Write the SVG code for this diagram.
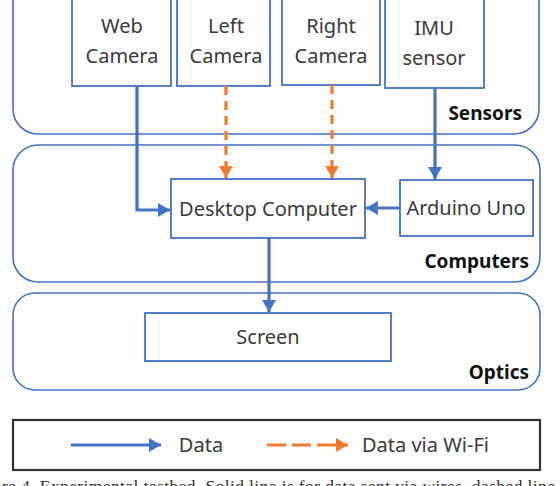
<svg xmlns="http://www.w3.org/2000/svg" width="560" height="486" viewBox="0 0 560 486">
<defs>
<marker id="ab" markerUnits="userSpaceOnUse" markerWidth="12" markerHeight="14" refX="12" refY="7" orient="auto"><path d="M0,0 L12,7 L0,14 z" fill="#4472C4"/></marker>
<marker id="ao" markerUnits="userSpaceOnUse" markerWidth="12" markerHeight="14" refX="12" refY="7" orient="auto"><path d="M0,0 L12,7 L0,14 z" fill="#ED7D31"/></marker>
<style>
.grp{fill:none;stroke:#4472C4;stroke-width:1.6}
.box{fill:#fff;stroke:#4472C4;stroke-width:1.8}
.t{font-family:"Noto Sans","Open Sans",sans-serif;font-size:20px;fill:#3a3a3a;text-anchor:middle}
.lbl{font-family:"Noto Sans","Open Sans",sans-serif;font-size:19px;font-weight:bold;fill:#111;text-anchor:end}
.wire{fill:none;stroke:#4472C4;stroke-width:3.2}
.wifi{fill:none;stroke:#ED7D31;stroke-width:3.2;stroke-dasharray:9,6}
</style>
</defs>
<rect width="560" height="486" fill="#fff"/>

<g id="sensors">
<rect class="grp" x="13" y="-40" width="526" height="174" rx="25"/>
<text class="lbl" x="522" y="120">Sensors</text>
</g>
<g id="computers">
<rect class="grp" x="13" y="145" width="527" height="137" rx="25"/>
<text class="lbl" x="529" y="268">Computers</text>
</g>
<g id="optics">
<rect class="grp" x="13" y="293" width="527" height="97" rx="22"/>
<text class="lbl" x="529" y="379">Optics</text>
</g>

<g id="web-camera">
<rect class="box" x="72" y="-3" width="99" height="89"/>
<text class="t" x="122" y="33">Web</text>
<text class="t" x="122" y="63">Camera</text>
</g>
<g id="left-camera">
<rect class="box" x="177" y="-3" width="93" height="89"/>
<text class="t" x="226" y="33">Left</text>
<text class="t" x="226" y="63">Camera</text>
</g>
<g id="right-camera">
<rect class="box" x="282" y="-3" width="98" height="88"/>
<text class="t" x="331" y="33">Right</text>
<text class="t" x="331" y="63">Camera</text>
</g>
<g id="imu-sensor">
<rect class="box" x="385" y="-3" width="99" height="91"/>
<text class="t" x="434" y="35">IMU</text>
<text class="t" x="434" y="65">sensor</text>
</g>
<g id="desktop-computer">
<rect class="box" x="171" y="179" width="194" height="59"/>
<text class="t" x="268" y="216">Desktop Computer</text>
</g>
<g id="arduino-uno">
<rect class="box" x="400" y="180" width="133" height="56"/>
<text class="t" x="466" y="215">Arduino Uno</text>
</g>
<g id="screen">
<rect class="box" x="145" y="313" width="246" height="48"/>
<text class="t" x="268" y="344">Screen</text>
</g>

<g id="connectors">
<polyline class="wire" points="137,86 137,210 170,210" marker-end="url(#ab)"/>
<line class="wifi" x1="226" y1="86" x2="226" y2="178" marker-end="url(#ao)"/>
<line class="wifi" x1="332" y1="85" x2="332" y2="178" marker-end="url(#ao)"/>
<line class="wire" x1="435" y1="88" x2="435" y2="179" marker-end="url(#ab)"/>
<line class="wire" x1="400" y1="208" x2="366" y2="208" marker-end="url(#ab)"/>
<line class="wire" x1="269" y1="238" x2="269" y2="312" marker-end="url(#ab)"/>
</g>

<g id="legend">
<rect x="13" y="420" width="527" height="50" fill="#fff" stroke="#333" stroke-width="2.2"/>
<line class="wire" x1="71" y1="445" x2="161" y2="445" marker-end="url(#ab)"/>
<text class="t" x="201" y="452">Data</text>
<line class="wifi" x1="267" y1="445" x2="348" y2="445" style="stroke-dasharray:19,6" marker-end="url(#ao)"/>
<text class="t" x="362" y="452" style="text-anchor:start">Data via Wi-Fi</text>
</g>

<text x="2" y="492" font-family="'Liberation Serif',serif" font-size="17.5" fill="#333" textLength="553" lengthAdjust="spacing">re 4. Experimental testbed. Solid line is for data sent via wires, dashed line</text>
</svg>
